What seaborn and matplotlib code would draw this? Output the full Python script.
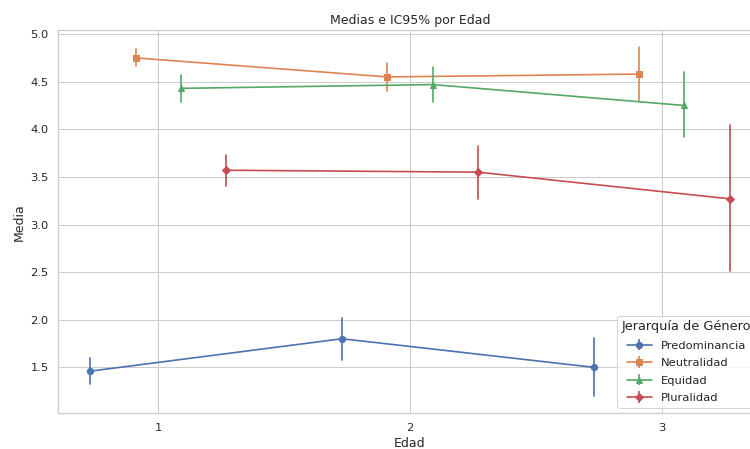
import numpy as np
import pandas as pd
import seaborn as sns
import matplotlib.pyplot as plt
from matplotlib.container import ErrorbarContainer
from matplotlib.lines import Line2D
from matplotlib.collections import LineCollection

# ---- data ----
edades = [1, 2, 3]
grupos = ["Predominancia", "Neutralidad", "Equidad", "Pluralidad"]
marcadores = ["o", "s", "^", "D"]

pred_media = [1.46, 1.80, 1.50]
pred_lo = [1.32, 1.58, 1.20]
pred_hi = [1.60, 2.02, 1.81]

neut_media = [4.75, 4.55, 4.58]
neut_lo = [4.66, 4.40, 4.30]
neut_hi = [4.84, 4.70, 4.86]

equi_media = [4.43, 4.47, 4.25]
equi_lo = [4.29, 4.29, 3.92]
equi_hi = [4.57, 4.65, 4.60]

plur_media = [3.57, 3.55, 3.27]
plur_lo = [3.40, 3.27, 2.51]
plur_hi = [3.73, 3.82, 4.04]

series = {
    "Predominancia": (pred_media, pred_lo, pred_hi),
    "Neutralidad": (neut_media, neut_lo, neut_hi),
    "Equidad": (equi_media, equi_lo, equi_hi),
    "Pluralidad": (plur_media, plur_lo, plur_hi),
}

HUE = "Jerarquía de Género"
rows = []
for g in grupos:
    m, lo, hi = series[g]
    for i, e in enumerate(edades):
        for v in (lo[i], m[i], hi[i]):
            rows.append({"Edad": e, "Media": v, HUE: g})
df = pd.DataFrame(rows)


def interval(v):
    return (np.min(v), np.max(v))


sns.set_theme(style="whitegrid")
plt.rcParams["font.family"] = ["DejaVu Sans"]
palette = sns.color_palette("deep", len(grupos))

fig = plt.figure(figsize=(10, 449 / 75), dpi=75)
ax = fig.add_axes([0.0779, 0.0795, 0.9376, 0.8537])

sns.pointplot(
    data=df, x="Edad", y="Media", hue=HUE, hue_order=grupos,
    palette=palette,
    estimator="median", errorbar=interval,
    dodge=0.54, native_scale=True,
    markers=marcadores, linestyles="-",
    linewidth=1.6, markersize=6, markeredgewidth=1,
    ax=ax, legend=False,
)

ax.set_xticks(edades)
ax.set_xticklabels([str(e) for e in edades])
ax.set_title("Medias e IC95% por Edad")
ax.set_xlabel("Edad")
ax.set_ylabel("Media")

handles = []
for g, c, mk in zip(grupos, palette, marcadores):
    ln = Line2D([], [], color=c, marker=mk, linewidth=1.6, markersize=6)
    bar = LineCollection([], colors=[c], linewidths=1.6)
    handles.append(ErrorbarContainer((ln, (), (bar,)), has_xerr=False,
                                     has_yerr=True, label=g))
ax.legend(handles=handles, labels=grupos, title=HUE, loc="lower right",
          labelspacing=0.65, handlelength=2.2, title_fontsize=12.4)

fig.savefig("out.png", dpi=75)
